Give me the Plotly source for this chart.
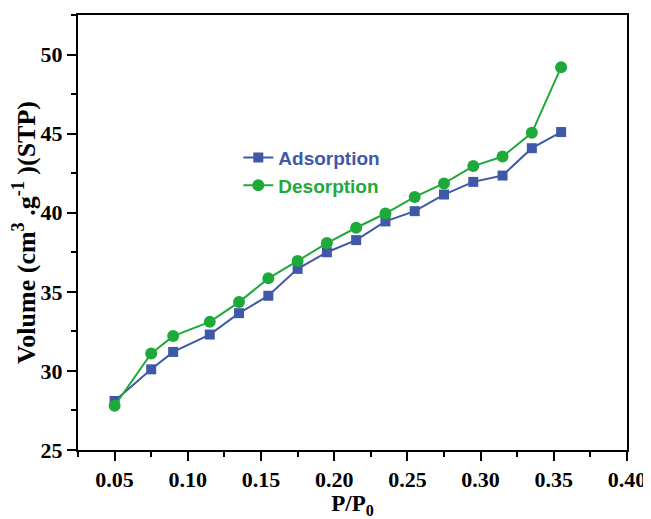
import plotly.graph_objects as go

pressure = [0.05, 0.075, 0.09, 0.115, 0.135, 0.155, 0.175, 0.195, 0.215,
            0.235, 0.255, 0.275, 0.295, 0.315, 0.335, 0.355]
adsorption = [28.1, 30.1, 31.2, 32.3, 33.65, 34.75, 36.45, 37.5, 38.27,
              39.45, 40.1, 41.15, 41.95, 42.35, 44.08, 45.1]
desorption = [27.8, 31.1, 32.2, 33.1, 34.35, 35.85, 36.95, 38.08, 39.05,
              39.95, 41.0, 41.85, 42.95, 43.55, 45.05, 49.2]

blue = "#4058A8"
green = "#1EAA3A"

fig = go.Figure()
fig.add_trace(go.Scatter(
    x=pressure, y=adsorption, mode="lines+markers",
    name=f"<span style='color:{blue}'><b>Adsorption</b></span>",
    line=dict(color=blue, width=2),
    marker=dict(symbol="square", size=10, color=blue),
))
fig.add_trace(go.Scatter(
    x=pressure, y=desorption, mode="lines+markers",
    name=f"<span style='color:{green}'><b>Desorption</b></span>",
    line=dict(color=green, width=2),
    marker=dict(symbol="circle", size=12, color=green),
))

tick_font = dict(family="Liberation Serif", size=22, color="black")
fig.update_layout(
    width=643, height=511,
    margin=dict(l=70, r=23, t=5, b=66),
    paper_bgcolor="white", plot_bgcolor="white",
    showlegend=True,
    legend=dict(x=0.292, y=0.64, xanchor="left", yanchor="middle",
                bgcolor="rgba(0,0,0,0)",
                font=dict(family="Liberation Sans", size=19),
                tracegroupgap=0, itemwidth=30),
    xaxis=dict(
        range=[0.025, 0.40], tick0=0.05, dtick=0.05, tickformat=".2f",
        tickprefix="<b>", ticksuffix="</b>", ticklabeloverflow="allow",
        ticks="outside", ticklen=9, tickwidth=2, tickcolor="black",
        showline=True, linecolor="black", linewidth=2, mirror=True,
        showgrid=False, zeroline=False, tickfont=tick_font,
        minor=dict(ticks="outside", ticklen=5, tickwidth=2, tickcolor="black",
                   dtick=0.025, tick0=0.025, showgrid=False),
        title=dict(text="<b>P/P<sub>0</sub></b>",
                   font=dict(family="Liberation Serif", size=23, color="black"),
                   standoff=5),
    ),
    yaxis=dict(
        range=[25, 52.5], tick0=25, dtick=5,
        tickprefix="<b>", ticksuffix="</b>",
        ticks="outside", ticklen=9, tickwidth=2, tickcolor="black",
        showline=True, linecolor="black", linewidth=2, mirror=True,
        showgrid=False, zeroline=False, tickfont=tick_font,
        minor=dict(ticks="outside", ticklen=5, tickwidth=2, tickcolor="black",
                   dtick=2.5, tick0=25, showgrid=False),
        title=dict(text="<b>Volume (cm<sup>3</sup> .g<sup>-1</sup> )(STP)</b>",
                   font=dict(family="Liberation Serif", size=26, color="black"),
                   standoff=1),
    ),
)
fig.write_html("out.html")
